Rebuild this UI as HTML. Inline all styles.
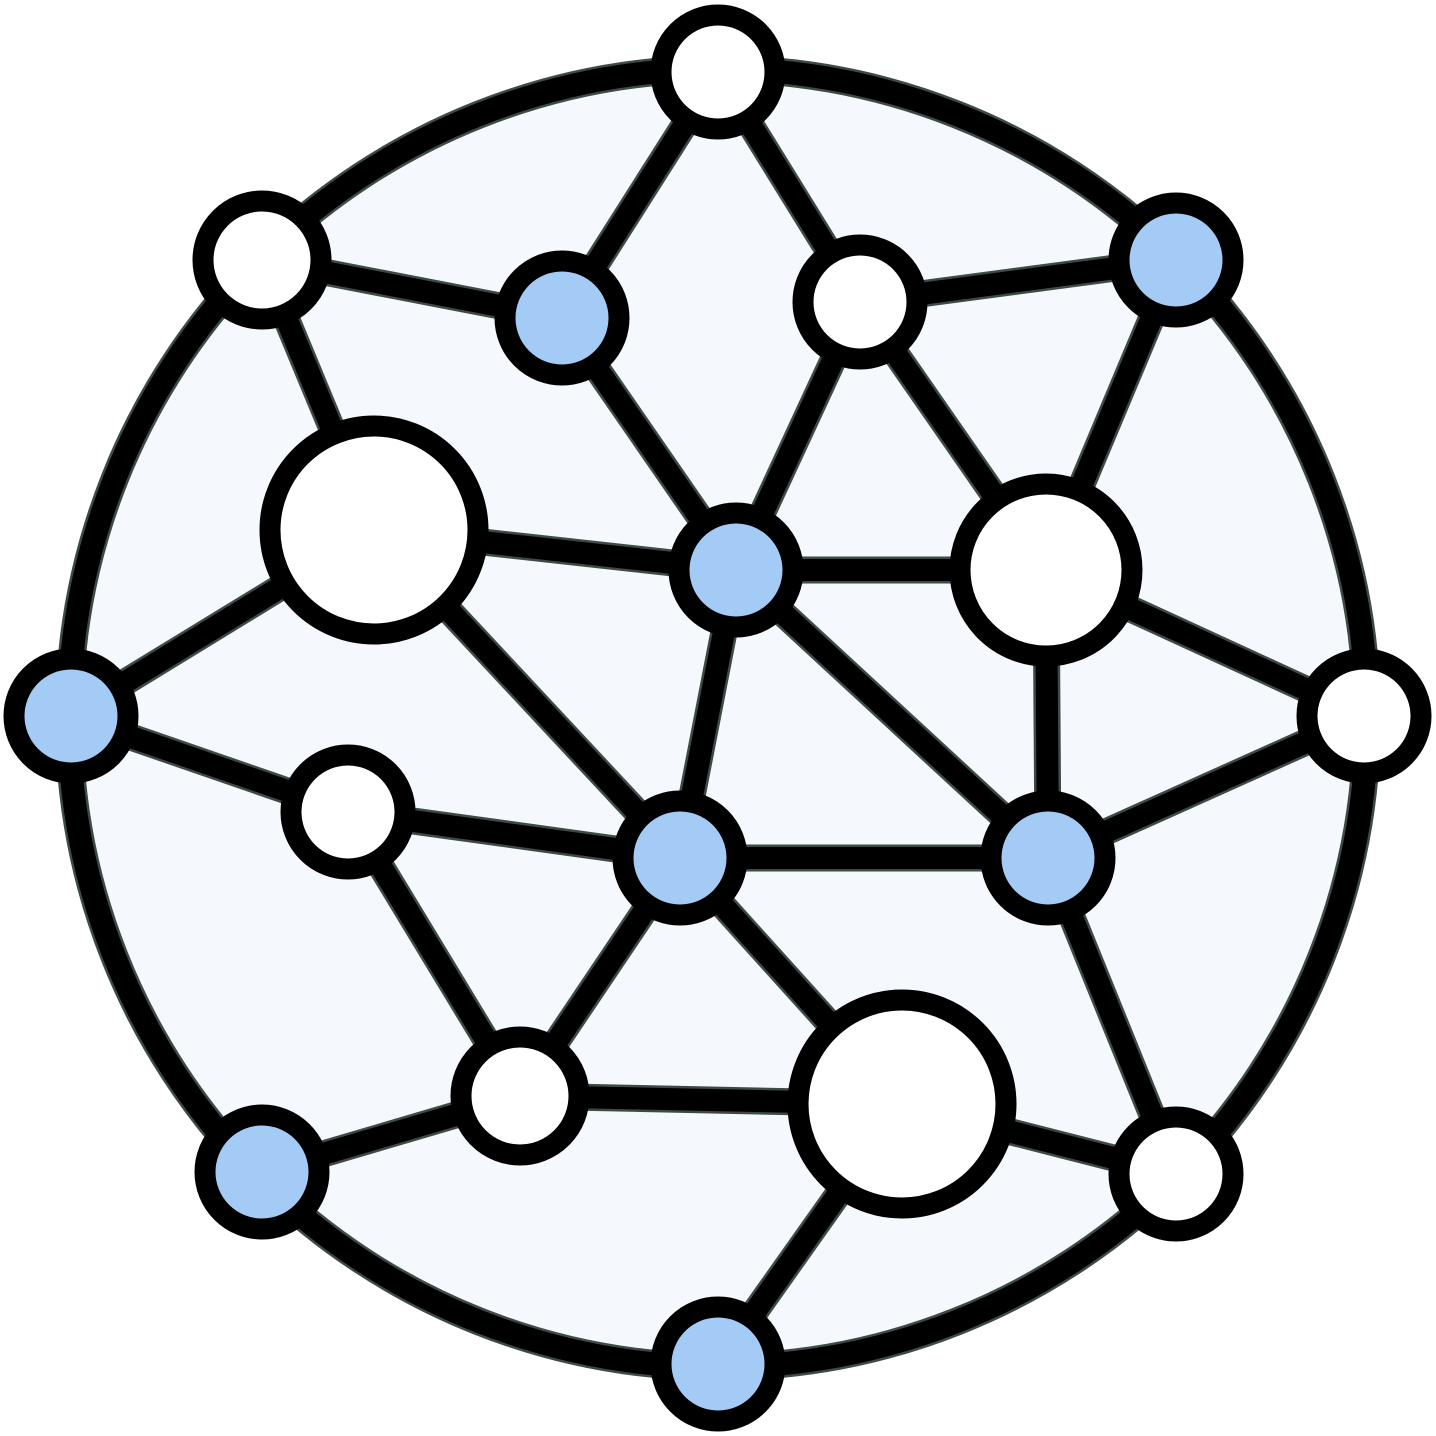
<!DOCTYPE html>
<html><head><style>html,body{margin:0;padding:0;background:#fff}svg{display:block}</style></head>
<body>
<svg width="1436" height="1436" viewBox="0 0 1436 1436" xmlns="http://www.w3.org/2000/svg">
<circle cx="718" cy="718" r="649" fill="#f5f9fe" stroke="#3d4a45" stroke-width="28"/>
<circle cx="718" cy="718" r="649" fill="none" stroke="#000" stroke-width="23"/>
<g id="edges" stroke-linecap="butt">
<g stroke="#3d4a45" stroke-width="27">
<path d="M718 72L562 318M718 72L860 302M262 260L562 318M262 260L374 530M860 302L1176 260M860 302L736 570M860 302L1046 570M1176 260L1046 570M562 318L736 570M374 530L736 570M736 570L1046 570M374 530L70 716M374 530L680 858M736 570L680 858M736 570L1048 858M1046 570L1364 716M1046 570L1048 858M70 716L348 812M348 812L680 858M348 812L520 1096M680 858L1048 858M1048 858L1364 716M680 858L520 1096M680 858L902 1104M1048 858L1176 1174M520 1096L262 1172M520 1096L902 1104M902 1104L1176 1174M902 1104L718 1364"/>
</g>
<g stroke="#000" stroke-width="22">
<path d="M718 72L562 318M718 72L860 302M262 260L562 318M262 260L374 530M860 302L1176 260M860 302L736 570M860 302L1046 570M1176 260L1046 570M562 318L736 570M374 530L736 570M736 570L1046 570M374 530L70 716M374 530L680 858M736 570L680 858M736 570L1048 858M1046 570L1364 716M1046 570L1048 858M70 716L348 812M348 812L680 858M348 812L520 1096M680 858L1048 858M1048 858L1364 716M680 858L520 1096M680 858L902 1104M1048 858L1176 1174M520 1096L262 1172M520 1096L902 1104M902 1104L1176 1174M902 1104L718 1364"/>
</g>
</g>
<g stroke="#000" stroke-width="21">
<circle cx="718" cy="72" r="57" fill="#fff"/>
<circle cx="262" cy="260" r="59" fill="#fff"/>
<circle cx="1176" cy="260" r="57" fill="#a3cbf5"/>
<circle cx="71" cy="716" r="57" fill="#a3cbf5"/>
<circle cx="1364" cy="716" r="57" fill="#fff"/>
<circle cx="262" cy="1172" r="57" fill="#a3cbf5"/>
<circle cx="1176" cy="1174" r="57" fill="#fff"/>
<circle cx="718" cy="1364" r="57" fill="#a3cbf5"/>
<circle cx="562" cy="318" r="57" fill="#a3cbf5"/>
<circle cx="860" cy="302" r="57" fill="#fff"/>
<circle cx="374" cy="530" r="104" fill="#fff"/>
<circle cx="736" cy="570" r="57" fill="#a3cbf5"/>
<circle cx="1046" cy="570" r="86" fill="#fff"/>
<circle cx="348" cy="812" r="57" fill="#fff"/>
<circle cx="680" cy="858" r="57" fill="#a3cbf5"/>
<circle cx="1048" cy="858" r="57" fill="#a3cbf5"/>
<circle cx="520" cy="1096" r="59" fill="#fff"/>
<circle cx="902" cy="1104" r="104" fill="#fff"/>
</g>
</svg>
</body></html>
